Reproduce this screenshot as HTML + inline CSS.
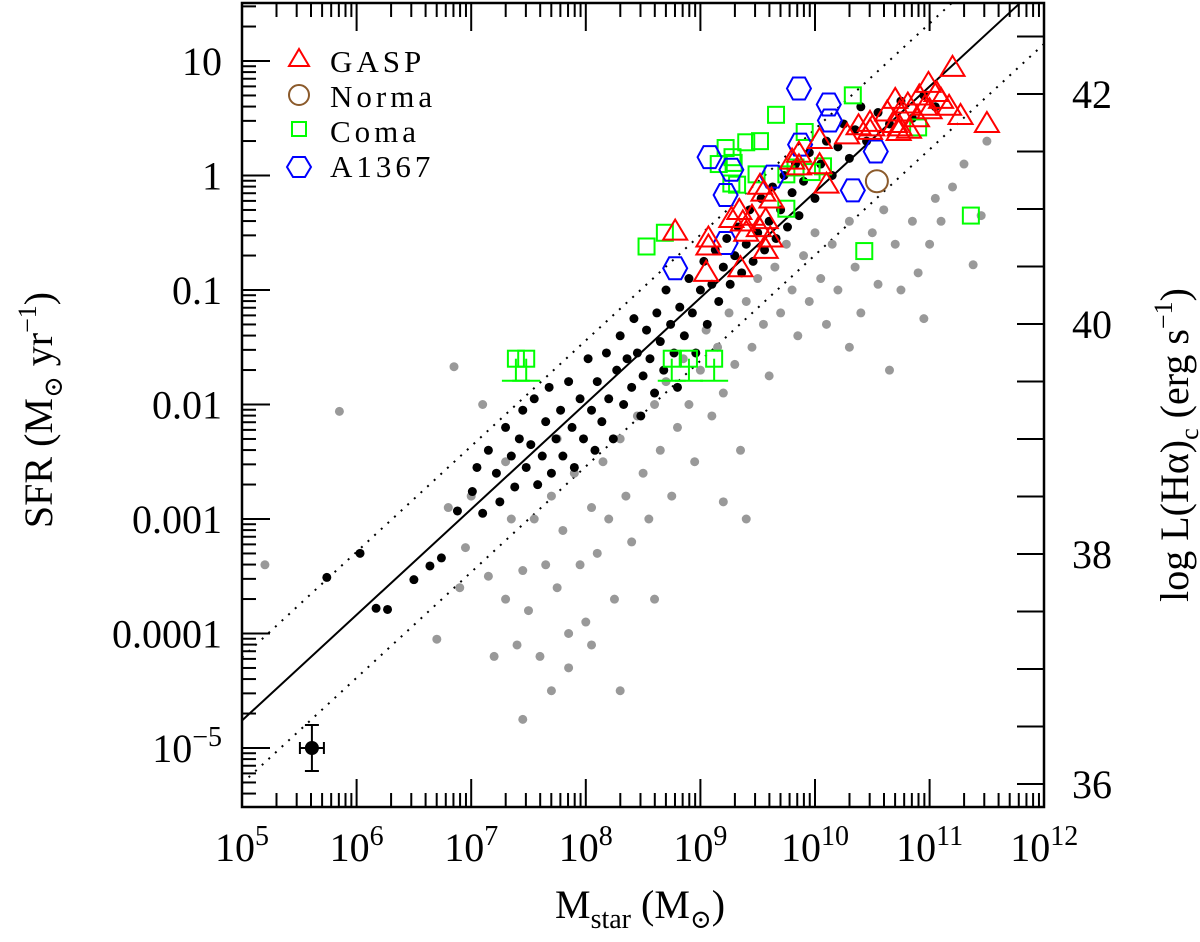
<!DOCTYPE html>
<html><head><meta charset="utf-8">
<style>
html,body{margin:0;padding:0;background:#fff;}
svg{display:block;font-family:"Liberation Serif","DejaVu Serif",serif;}
</style></head>
<body>
<svg id="chart" width="1200" height="942" viewBox="0 0 1200 942" xmlns="http://www.w3.org/2000/svg">
<g id="grid"></g>
<g id="marks"></g>
<g id="legend">
  <polygon points="299,49 309,66 289,66" fill="none" stroke="#f00" stroke-width="2"/>
  <text x="330" y="72" font-size="31" letter-spacing="4">GASP</text>
  <circle cx="299" cy="95" r="10" fill="none" stroke="#8B5A2B" stroke-width="2"/>
  <text x="330" y="107" font-size="31" letter-spacing="4">Norma</text>
  <rect x="292" y="122" width="14" height="14" fill="none" stroke="#0f0" stroke-width="2"/>
  <text x="330" y="142" font-size="31" letter-spacing="4">Coma</text>
  <polygon points="293,157 305,157 311,167 305,177 293,177 287,167" fill="none" stroke="#00f" stroke-width="2"/>
  <text x="330" y="177" font-size="31" letter-spacing="4">A1367</text>
</g>
</svg>
<script>
// ---- data (log M*, log SFR) ----
const gaspM = [11.20,10.99,11.06,10.91,11.10,10.70,10.81,10.96,11.17,11.00,10.74,10.63,10.89,10.70,10.74,10.82,10.38,10.48,10.50,11.27,11.50,10.73,10.28,10.48,10.04,10.04,9.86,9.80,9.86,10.10,9.52,9.55,9.62,9.34,9.45,9.57,9.51,9.40,9.61,9.07,9.37,9.27,9.57,8.78,9.07,9.05,9.35];
const gaspS = [0.94,0.80,0.72,0.69,0.66,0.66,0.62,0.60,0.60,0.57,0.55,0.55,0.50,0.45,0.42,0.40,0.43,0.46,0.42,0.52,0.45,0.38,0.35,0.39,0.31,0.09,0.19,0.13,0.08,-0.08,-0.09,-0.15,-0.21,-0.31,-0.36,-0.39,-0.46,-0.50,-0.55,-0.55,-0.41,-0.38,-0.65,-0.49,-0.62,-0.85,-0.81];
const a1367M = [9.86,10.12,10.13,9.87,9.08,9.27,9.63,9.22,10.53,10.33,9.22,8.78];
const a1367S = [0.76,0.62,0.48,0.27,0.16,0.05,-0.01,-0.17,0.21,-0.13,-0.59,-0.81];
const normaM = [10.54];
const normaS = [-0.05];
const comaM = [10.33,9.66,9.91,9.52,9.40,9.22,9.28,9.16,9.29,9.27,9.32,9.49,9.75,9.83,9.97,10.07,10.90,9.75,8.69,8.53,10.43,11.36];
const comaS = [0.70,0.53,0.38,0.30,0.29,0.24,0.16,0.10,0.11,-0.07,-0.08,0.01,0.01,0.07,0.03,0.08,0.42,-0.29,-0.50,-0.62,-0.66,-0.35];
const comaLimM = [7.39,7.48,8.75,8.90,9.12];
const comaLimS = [-1.60,-1.60,-1.60,-1.60,-1.60];
const blackM = [5.74,6.03,6.17,6.27,6.50,6.64,6.74,6.88,7.01,7.05,7.10,7.15,7.22,7.25,7.30,7.35,7.38,7.42,7.45,7.48,7.52,7.55,7.58,7.62,7.65,7.68,7.70,7.74,7.78,7.80,7.85,7.88,7.90,7.95,7.98,8.02,8.05,8.08,8.10,8.14,8.18,8.20,8.24,8.27,8.30,8.33,8.36,8.40,8.42,8.45,8.48,8.50,8.53,8.56,8.60,8.62,8.65,8.68,8.70,8.74,8.77,8.80,8.82,8.86,8.90,8.93,8.96,9.00,9.03,9.06,9.10,9.13,9.16,9.20,9.23,9.26,9.30,9.33,9.36,9.40,9.43,9.46,9.50,9.53,9.56,9.60,9.63,9.66,9.70,9.73,9.76,9.80,9.83,9.86,9.90,9.95,10.00,10.05,10.10,10.15,10.20,10.25,10.30,10.35,10.40,10.45,10.55,10.65,10.75,10.85,10.95,11.05];
const blackS = [-3.51,-3.30,-3.78,-3.79,-3.53,-3.41,-3.34,-2.93,-2.76,-2.55,-2.95,-2.40,-2.60,-2.85,-2.20,-2.45,-2.72,-2.30,-2.05,-2.55,-2.35,-1.95,-2.70,-2.45,-2.15,-1.85,-2.60,-2.30,-2.05,-2.45,-1.80,-2.20,-2.55,-1.95,-2.30,-1.60,-2.05,-2.40,-1.80,-2.15,-1.55,-1.95,-2.30,-1.70,-1.40,-2.00,-1.60,-1.85,-1.25,-1.55,-2.10,-1.75,-1.35,-1.60,-1.90,-1.20,-1.45,-1.70,-1.00,-1.30,-1.55,-1.85,-1.15,-1.40,-0.90,-1.20,-1.55,-1.00,-0.75,-1.30,-0.95,-0.65,-1.10,-0.80,-0.55,-0.95,-0.70,-0.45,-0.85,-0.60,-0.30,-0.75,-0.50,-0.20,-0.65,-0.40,-0.10,-0.55,-0.30,0.00,-0.45,-0.15,0.10,-0.35,-0.05,0.20,-0.20,0.10,0.30,0.00,0.25,0.45,0.15,0.40,0.60,0.30,0.55,0.45,0.65,0.50,0.70,0.60];
const greyM = [5.2,5.85,6.85,7.0,7.1,6.95,7.15,7.35,7.4,7.3,7.45,7.5,7.55,7.6,7.65,7.7,7.7,7.75,7.8,7.85,7.9,7.95,8.0,8.05,8.1,8.15,8.2,8.25,8.3,8.35,8.4,8.45,8.5,8.55,8.6,8.65,8.7,8.75,8.8,8.85,8.9,8.95,9.0,9.05,9.1,9.15,9.2,9.25,9.3,9.35,9.4,9.45,9.5,9.55,9.6,9.65,9.7,9.75,9.8,9.85,9.9,9.95,10.0,10.05,10.1,10.15,10.2,10.3,10.35,10.4,10.5,10.55,10.6,10.7,10.75,10.85,10.9,11.0,11.05,11.1,11.2,11.3,11.38,11.45,11.5,7.45,7.85,8.3,8.6,9.2,9.4,6.7,6.9,7.2,6.8,7.3,7.75,8.05,10.3,10.65,10.95];
const greyS = [-3.4,-2.06,-1.67,-2.8,-2.0,-3.25,-3.5,-3.0,-4.1,-3.7,-3.45,-3.8,-3.0,-4.2,-3.4,-2.8,-4.5,-3.6,-3.1,-4.0,-2.6,-3.4,-3.9,-2.9,-3.3,-2.5,-3.0,-3.7,-2.3,-2.8,-3.2,-2.1,-2.6,-3.0,-2.0,-2.4,-1.8,-2.8,-2.2,-1.6,-2.0,-2.5,-1.7,-1.35,-2.1,-1.5,-1.9,-1.2,-1.65,-2.4,-1.1,-1.5,-0.9,-1.3,-1.75,-0.8,-1.2,-0.6,-1.0,-1.4,-0.7,-1.1,-0.5,-0.9,-1.3,-0.6,-1.0,-0.4,-0.8,-1.2,-0.5,-0.95,-0.3,-0.6,-1.0,-0.4,-0.85,-0.6,-0.2,-0.4,-0.1,0.1,-0.78,-0.35,0.3,-4.75,-4.3,-4.5,-3.7,-2.85,-3.0,-4.05,-3.6,-4.2,-2.9,-2.5,-2.3,-4.1,-1.5,-1.7,-1.25];
const xTickExp = [5,6,7,8,9,10,11,12];
const yTickLabels = ["10","1","0.1","0.01","0.001","0.0001"];
const yTickLog = [1,0,-1,-2,-3,-4];
const lTicks = [42,40,38,36];
const fitIntercept = -4.76, fitSlope = 0.923, fitScatter = 0.55;

// ---- axes ----
const X0=242, X1=1044, Y0=3, Y1=807;
const xs = m => X0 + (m-5)*114.6;
const ys = s => 61 + (1-s)*114.5;
const yL = L => 94 + (42-L)*115;
const NS="http://www.w3.org/2000/svg";
const grid=document.getElementById('grid'), marks=document.getElementById('marks');
function mk(tag, attrs, parent){const e=document.createElementNS(NS,tag);for(const k in attrs)e.setAttribute(k,attrs[k]);(parent||marks).appendChild(e);return e;}

const fr = mk('rect',{x:X0,y:Y0,width:X1-X0,height:Y1-Y0,fill:'none',stroke:'#000','stroke-width':2.5},grid);



for(let e=5;e<12;e++){for(let k=1;k<10;k++){const x=xs(e+Math.log10(k));const len=k===1?28:14;
  if(k===1&&e===5)continue;
  const t1=mk('line',{x1:x,y1:Y1,x2:x,y2:Y1-len,stroke:'#000','stroke-width':2},grid);
  
  
  const t2=mk('line',{x1:x,y1:Y0,x2:x,y2:Y0+len,stroke:'#000','stroke-width':2},grid);
  
  }}
xTickExp.forEach(e=>{const t=mk('text',{x:xs(e),y:861,'font-size':40,'text-anchor':'middle'},grid);
  
  
  t.innerHTML='10<tspan dy="-16" font-size="28">'+e+'</tspan>';});
for(let e=-6;e<2;e++){for(let k=1;k<10;k++){const s=e+Math.log10(k);const y=ys(s);if(y<Y0+1||y>Y1-1)continue;const len=k===1?28:14;
  const t=mk('line',{x1:X0,y1:y,x2:X0+len,y2:y,stroke:'#000','stroke-width':2},grid);
  
  }}
yTickLog.forEach((s,i)=>{const t=mk('text',{x:222,y:ys(s)+14,'font-size':40,'text-anchor':'end'},grid);
  
  
  t.textContent=yTickLabels[i];});
{const t=mk('text',{x:222,y:ys(-5)+14,'font-size':40,'text-anchor':'end'},grid);
 
 
 t.innerHTML='10<tspan dy="-16" font-size="28">−5</tspan>';}
for(let L=35.5;L<=42.6;L+=0.5){const y=yL(L);if(y<Y0+1||y>Y1-1)continue;
  const t=mk('line',{x1:X1,y1:y,x2:X1-27,y2:y,stroke:'#000','stroke-width':2},grid);
  
  }
lTicks.forEach(L=>{const t=mk('text',{x:1072,y:yL(L)+14,'font-size':40},grid);
  
  
  t.textContent=L;});
{const t=mk('text',{x:0,y:0,'font-size':40,'text-anchor':'middle',transform:'translate(52,410) rotate(-90)','xml:space':'preserve'},grid);
 
 
 t.innerHTML='SFR   (M<tspan font-size="26" dy="10">⊙</tspan><tspan dy="-10"> yr</tspan><tspan dy="-16" font-size="26">−1</tspan><tspan dy="16">)</tspan>';}
{const t=mk('text',{x:0,y:0,'font-size':40,'text-anchor':'middle',transform:'translate(1188,445) rotate(-90)','xml:space':'preserve'},grid);
 
 
 t.innerHTML='log L(Hα)<tspan font-size="26" dy="10">c</tspan><tspan dy="-10">     (erg s</tspan><tspan dy="-16" font-size="26">−1</tspan><tspan dy="16">)</tspan>';}
{const t=mk('text',{x:640,y:918,'font-size':40,'text-anchor':'middle','xml:space':'preserve'},grid);
 
 
 t.innerHTML='M<tspan font-size="28" dy="10">star</tspan><tspan dy="-10">     (M</tspan><tspan font-size="26" dy="10">⊙</tspan><tspan dy="-10">)</tspan>';}

const cp=mk('clipPath',{id:'clip'},grid);mk('rect',{x:X0,y:Y0,width:X1-X0,height:Y1-Y0},cp);
[[0,'none','fit-line'],[fitScatter,'2,7','upper-scatter-line'],[-fitScatter,'2,7','lower-scatter-line']].forEach(([o,d,n])=>{
  const m0=5,m1=12;const l=mk('line',{x1:xs(m0),y1:ys(fitIntercept+o),x2:xs(m1),y2:ys(fitIntercept+o+fitSlope*(m1-m0)),stroke:'#000','stroke-width':2,'stroke-dasharray':d,'clip-path':'url(#clip)'});
  
  });

greyM.forEach((m,i)=>{const c=mk('circle',{cx:xs(m),cy:ys(greyS[i]),r:4.5,fill:'#999'});
  
  });
blackM.forEach((m,i)=>{const c=mk('circle',{cx:xs(m),cy:ys(blackS[i]),r:4.5,fill:'#000'});
  
  });
comaM.forEach((m,i)=>{const x=xs(m),y=ys(comaS[i]);const r=mk('rect',{x:x-8,y:y-8,width:16,height:16,fill:'none',stroke:'#0f0','stroke-width':2});
  
  });
comaLimM.forEach((m,i)=>{const x=xs(m),y=ys(comaLimS[i]);
  const g=mk('g',{});
  
  
  mk('rect',{x:x-8,y:y-8,width:16,height:16,fill:'none',stroke:'#0f0','stroke-width':2},g);
  mk('line',{x1:x,y1:y,x2:x,y2:y+22,stroke:'#0f0','stroke-width':2},g);
  mk('line',{x1:x-14,y1:y+22,x2:x+14,y2:y+22,stroke:'#0f0','stroke-width':2},g);});
a1367M.forEach((m,i)=>{const x=xs(m),y=ys(a1367S[i]);const h=mk('polygon',{points:`${x-6},${y-11} ${x+6},${y-11} ${x+12},${y} ${x+6},${y+11} ${x-6},${y+11} ${x-12},${y}`,fill:'none',stroke:'#00f','stroke-width':2});
  
  });
gaspM.forEach((m,i)=>{const x=xs(m),y=ys(gaspS[i]);const t=mk('polygon',{points:`${x},${y-12} ${x+12},${y+8} ${x-12},${y+8}`,fill:'none',stroke:'#f00','stroke-width':2});
  
  });
normaM.forEach((m,i)=>{const c=mk('circle',{cx:xs(m),cy:ys(normaS[i]),r:11,fill:'none',stroke:'#8B5A2B','stroke-width':2});
  
  });
{const x=xs(5.61),y=ys(-5);const g=mk('g',{});
 
 
 mk('circle',{cx:x,cy:y,r:7,fill:'#000'},g);
 mk('line',{x1:x,y1:y-23,x2:x,y2:y+23,stroke:'#000','stroke-width':2},g);
 mk('line',{x1:x-7,y1:y-23,x2:x+7,y2:y-23,stroke:'#000','stroke-width':2},g);
 mk('line',{x1:x-7,y1:y+23,x2:x+7,y2:y+23,stroke:'#000','stroke-width':2},g);
 mk('line',{x1:x-12,y1:y,x2:x+12,y2:y,stroke:'#000','stroke-width':2},g);
 mk('line',{x1:x-12,y1:y-6,x2:x-12,y2:y+6,stroke:'#000','stroke-width':2},g);
 mk('line',{x1:x+12,y1:y-6,x2:x+12,y2:y+6,stroke:'#000','stroke-width':2},g);}
</script>
</body></html>
